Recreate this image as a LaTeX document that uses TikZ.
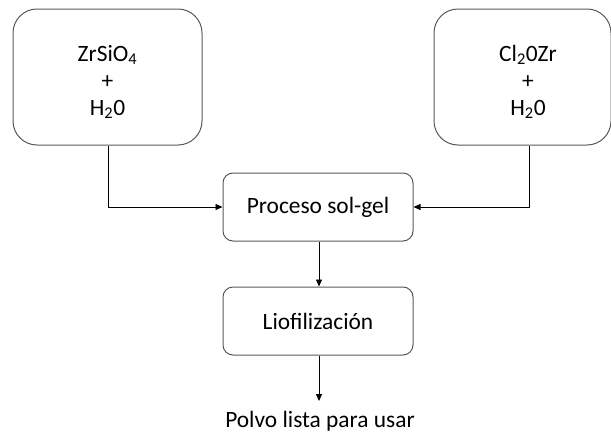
\documentclass[tikz,border=0pt]{standalone}
\usepackage{fontspec}
\setmainfont{Carlito}
\usetikzlibrary{arrows.meta}
\begin{document}
\begin{tikzpicture}[x=1pt,y=-1pt,
  bigbox/.style={draw=black!65,line width=1pt,rounded corners=24pt,inner sep=0pt},
  procbox/.style={draw=black!65,line width=1pt,rounded corners=10pt,inner sep=0pt,
    minimum width=190pt,font=\fontsize{23.4}{25}\selectfont},
  lbl/.style={align=center,inner sep=0pt,font=\fontsize{23.4}{27}\selectfont},
  conn/.style={draw=black,line width=0.8pt,-{Triangle[length=7pt,width=6pt]}}]
\useasboundingbox (0,0) rectangle (611,434);
\node[bigbox,minimum width=189pt,minimum height=136pt] (L) at (107.5,77) {};
\node[lbl] (Lt) at (107.5,82) {ZrSiO\textsubscript{4}\\+\\H\textsubscript{2}0};
\node[bigbox,minimum width=177pt,minimum height=136pt] (R) at (522.5,77) {};
\node[lbl] (Rt) at (528,82) {Cl\textsubscript{2}0Zr\\+\\H\textsubscript{2}0};
\node[procbox,minimum height=68pt] (P) at (318,207) {Proceso sol-gel};
\node[procbox,minimum height=68pt] (F) at (318,321) {Liofilización};
\node[inner sep=0pt,anchor=base,font=\fontsize{23.4}{25}\selectfont] (T) at (320,427.5) {Polvo lista para usar};
\coordinate (Tt) at (319,401);
\draw[conn] (L.south -| 108,0) |- (P.west);
\draw[conn] (R.south -| 529,0) |- (P.east);
\draw[conn] (P.south -| 319,0) -- (F.north -| 319,0);
\draw[conn] (F.south -| 319,0) -- (Tt);
\end{tikzpicture}
\end{document}
